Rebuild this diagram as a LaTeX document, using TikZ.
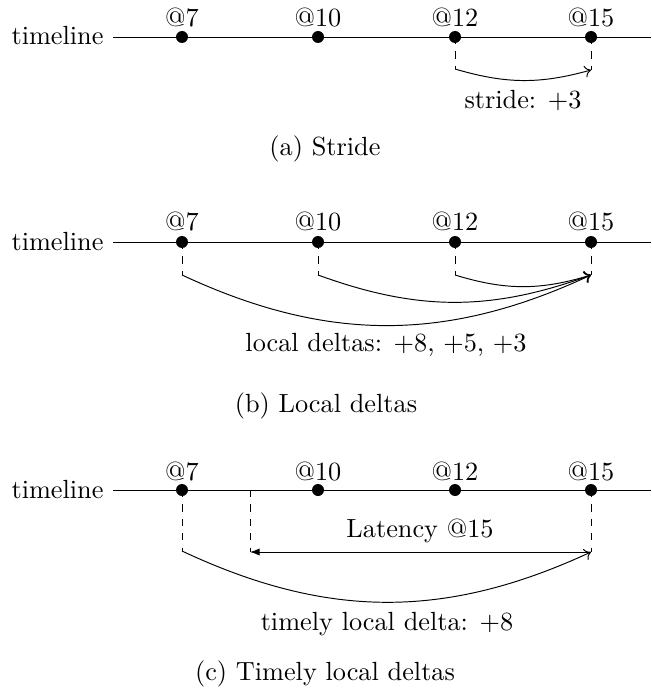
\documentclass[tikz,border=0pt]{standalone}
\usetikzlibrary{arrows.meta}
\begin{document}
\begin{tikzpicture}[x=0.014652cm,y=-0.014652cm,
  font=\fontsize{10.95}{13.6}\selectfont,
  dot/.style={circle,fill,inner sep=0pt,minimum size=5pt},
  lbl/.style={inner sep=0pt,anchor=base},
  vdash/.style={dashed},
  conn/.style={-{To[length=2.6pt,width=5pt]}}]
\useasboundingbox (0,0) rectangle (651,688);

% ---------- Row (a) ----------
\node[lbl,anchor=base east] (tla) at (104,45) {timeline};
\coordinate (sa) at (113,37);
\coordinate (ea) at (651,37);
\draw (sa) -- (ea);
\coordinate (a12d) at (455,69);
\coordinate (a15d) at (591,70);
\draw[vdash] (455,37) coordinate (a12c) -- (a12d);
\draw[vdash] (591,37) coordinate (a15c) -- (a15d);
\node[dot] (a7) at (182,37) {};
\node[dot] (a10) at (318,37) {};
\node[dot] (a12) at (455,37) {};
\node[dot] (a15) at (591,37) {};
\node[lbl] (la7) at (182,27) {@7};
\node[lbl] (la10) at (318,27) {@10};
\node[lbl] (la12) at (455,27) {@12};
\node[lbl] (la15) at (591,27) {@15};
\draw[conn] (a12d) to[bend right=16] (a15d);
\node[lbl] (stride) at (523,109) {stride: $+3$};
\node[lbl] (capa) at (325,156) {(a) Stride};

% ---------- Row (b) ----------
\node[lbl,anchor=base east] (tlb) at (104,250) {timeline};
\coordinate (sb) at (113,242);
\coordinate (eb) at (651,242);
\draw (sb) -- (eb);
\coordinate (b7d) at (182,275);
\coordinate (b10d) at (318,275);
\coordinate (b12d) at (455,275);
\coordinate (b15d) at (591,275);
\draw[vdash] (182,242) -- (b7d);
\draw[vdash] (318,242) -- (b10d);
\draw[vdash] (455,242) -- (b12d);
\draw[vdash] (591,242) -- (b15d);
\node[dot] (b7) at (182,242) {};
\node[dot] (b10) at (318,242) {};
\node[dot] (b12) at (455,242) {};
\node[dot] (b15) at (591,242) {};
\node[lbl] (lb7) at (182,231) {@7};
\node[lbl] (lb10) at (318,231) {@10};
\node[lbl] (lb12) at (455,231) {@12};
\node[lbl] (lb15) at (591,231) {@15};
\draw[conn] (b12d) to[bend right=17] (b15d);
\draw[conn] (b10d) to[bend right=20] (b15d);
\draw[conn] (b7d) to[bend right=25] (b15d);
\node[lbl] (ldel) at (386,351) {local deltas: $+8$, $+5$, $+3$};
\node[lbl] (capb) at (326,412) {(b) Local deltas};

% ---------- Row (c) ----------
\node[lbl,anchor=base east] (tlc) at (104,498) {timeline};
\coordinate (sc) at (113,490);
\coordinate (ec) at (651,490);
\draw (sc) -- (ec);
\coordinate (c7d) at (182,551);
\coordinate (ctd) at (250,552);
\coordinate (c15d) at (591,552);
\draw[vdash] (182,490) -- (c7d);
\draw[vdash] (250,490) coordinate (ct) -- (ctd);
\draw[vdash] (591,490) -- (c15d);
\node[dot] (c7) at (182,490) {};
\node[dot] (c10) at (318,490) {};
\node[dot] (c12) at (455,490) {};
\node[dot] (c15) at (591,490) {};
\node[lbl] (lc7) at (182,480) {@7};
\node[lbl] (lc10) at (318,480) {@10};
\node[lbl] (lc12) at (455,480) {@12};
\node[lbl] (lc15) at (591,480) {@15};
\draw[{Latex[length=4pt,width=3pt]}-] (ctd) -- (c15d);
\node[lbl] (lat) at (420,537) {Latency @15};
\draw[conn] (c7d) to[bend right=25] (c15d);
\node[lbl] (tld) at (387,630) {timely local delta: $+8$};
\node[lbl] (capc) at (325,680) {(c) Timely local deltas};
\end{tikzpicture}
\end{document}
